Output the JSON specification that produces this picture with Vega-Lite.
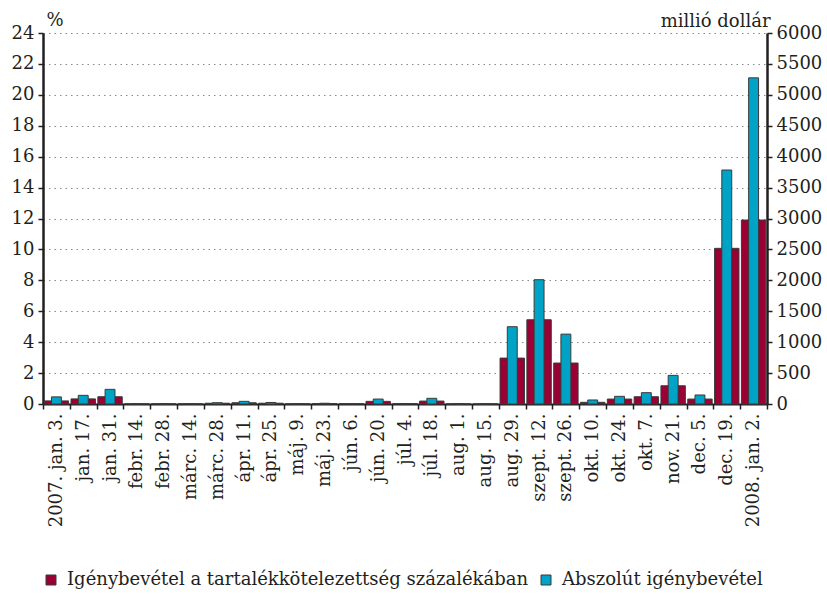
{
  "$schema": "https://vega.github.io/schema/vega-lite/v6.json",
  "autosize": {"type": "none"},
  "width": 724,
  "height": 371,
  "padding": {"left": 43, "top": 33, "right": 60, "bottom": 190},
  "background": "white",
  "config": {
    "view": {"stroke": null},
    "font": "DejaVu Serif"
  },
  "data": {
    "values": [
      {"datum": "2007. jan. 3.", "pct": 0.2, "usd": 115},
      {"datum": "jan. 17.", "pct": 0.33, "usd": 140},
      {"datum": "jan. 31.", "pct": 0.47, "usd": 237},
      {"datum": "febr. 14.", "pct": 0.01, "usd": 3},
      {"datum": "febr. 28.", "pct": 0.01, "usd": 2},
      {"datum": "márc. 14.", "pct": 0.01, "usd": 3},
      {"datum": "márc. 28.", "pct": 0.05, "usd": 20},
      {"datum": "ápr. 11.", "pct": 0.08, "usd": 43},
      {"datum": "ápr. 25.", "pct": 0.05, "usd": 25},
      {"datum": "máj. 9.", "pct": 0.01, "usd": 3},
      {"datum": "máj. 23.", "pct": 0.03, "usd": 12},
      {"datum": "jún. 6.", "pct": 0.02, "usd": 5},
      {"datum": "jún. 20.", "pct": 0.17, "usd": 80},
      {"datum": "júl. 4.", "pct": 0.02, "usd": 6},
      {"datum": "júl. 18.", "pct": 0.19, "usd": 92},
      {"datum": "aug. 1.", "pct": 0.01, "usd": 2},
      {"datum": "aug. 15.", "pct": 0.01, "usd": 2},
      {"datum": "aug. 29.", "pct": 2.97, "usd": 1250},
      {"datum": "szept. 12.", "pct": 5.45, "usd": 2010},
      {"datum": "szept. 26.", "pct": 2.65, "usd": 1130},
      {"datum": "okt. 10.", "pct": 0.11, "usd": 65},
      {"datum": "okt. 24.", "pct": 0.32, "usd": 124},
      {"datum": "okt. 7.", "pct": 0.47, "usd": 183},
      {"datum": "nov. 21.", "pct": 1.18, "usd": 463},
      {"datum": "dec. 5.", "pct": 0.32, "usd": 146},
      {"datum": "dec. 19.", "pct": 10.07, "usd": 3784},
      {"datum": "2008. jan. 2.", "pct": 11.9, "usd": 5275}
    ]
  },
  "encoding": {
    "x": {
      "field": "datum", "type": "nominal", "sort": null,
      "scale": {"paddingInner": 0, "paddingOuter": 0},
      "axis": {
        "title": null, "labelAngle": -90, "tickBand": "extent",
        "labelFont": "DejaVu Serif", "labelFontSize": 18, "labelColor": "#231f20", "labelLimit": 300,
        "domainColor": "#231f20", "domainWidth": 2,
        "tickColor": "#231f20", "tickWidth": 1.5, "tickSize": 5,
        "labelPadding": 4, "grid": false
      }
    }
  },
  "layer": [
    {
      "mark": {"type": "bar", "width": {"band": 0.91}, "stroke": "#3a3a3a", "strokeWidth": 1},
      "encoding": {
        "y": {
          "field": "pct", "type": "quantitative",
          "scale": {"domain": [0, 24], "nice": false},
          "axis": {
            "title": "%", "titleAngle": 0, "titleAlign": "left", "titleBaseline": "alphabetic",
            "titleX": 3, "titleY": -8,
            "titleFont": "DejaVu Serif", "titleFontSize": 18, "titleFontWeight": "normal", "titleColor": "#231f20",
            "labelFont": "DejaVu Serif", "labelFontSize": 18, "labelColor": "#231f20",
            "values": [0, 2, 4, 6, 8, 10, 12, 14, 16, 18, 20, 22, 24],
            "domainColor": "#231f20", "domainWidth": 2.5,
            "tickColor": "#231f20", "tickWidth": 1.5, "tickSize": 5, "labelPadding": 4,
            "grid": true, "gridColor": "#8a8a8a", "gridDash": [1.5, 4], "gridWidth": 1
          }
        },
        "color": {
          "datum": "Igénybevétel a tartalékkötelezettség százalékában",
          "type": "nominal",
          "scale": {
            "domain": ["Igénybevétel a tartalékkötelezettség százalékában", "Abszolút igénybevétel"],
            "range": ["#9a0033", "#00a3c6"]
          },
          "legend": {
            "title": null, "orient": "none", "direction": "horizontal",
            "legendX": -1, "legendY": 538,
            "labelFont": "DejaVu Serif", "labelFontSize": 18, "labelColor": "#231f20", "labelLimit": 600,
            "symbolType": "square", "symbolSize": 100, "symbolStrokeColor": "#333333", "symbolStrokeWidth": 1,
            "symbolOpacity": 1, "columnPadding": 8, "labelOffset": 7
          }
        }
      }
    },
    {
      "mark": {"type": "bar", "width": {"band": 0.37}, "stroke": "#3a3a3a", "strokeWidth": 1},
      "encoding": {
        "y": {
          "field": "usd", "type": "quantitative",
          "scale": {"domain": [0, 6000], "nice": false},
          "axis": {
            "orient": "right", "format": "d",
            "title": "millió dollár", "titleAngle": 0, "titleAlign": "right", "titleBaseline": "alphabetic",
            "titleX": 3, "titleY": -7,
            "titleFont": "DejaVu Serif", "titleFontSize": 18, "titleFontWeight": "normal", "titleColor": "#231f20",
            "labelFont": "DejaVu Serif", "labelFontSize": 18, "labelColor": "#231f20",
            "values": [0, 500, 1000, 1500, 2000, 2500, 3000, 3500, 4000, 4500, 5000, 5500, 6000],
            "domainColor": "#231f20", "domainWidth": 2.5,
            "tickColor": "#231f20", "tickWidth": 1.5, "tickSize": 5, "labelPadding": 4,
            "grid": false
          }
        },
        "color": {"datum": "Abszolút igénybevétel", "type": "nominal"}
      }
    }
  ],
  "resolve": {"scale": {"y": "independent"}}
}
